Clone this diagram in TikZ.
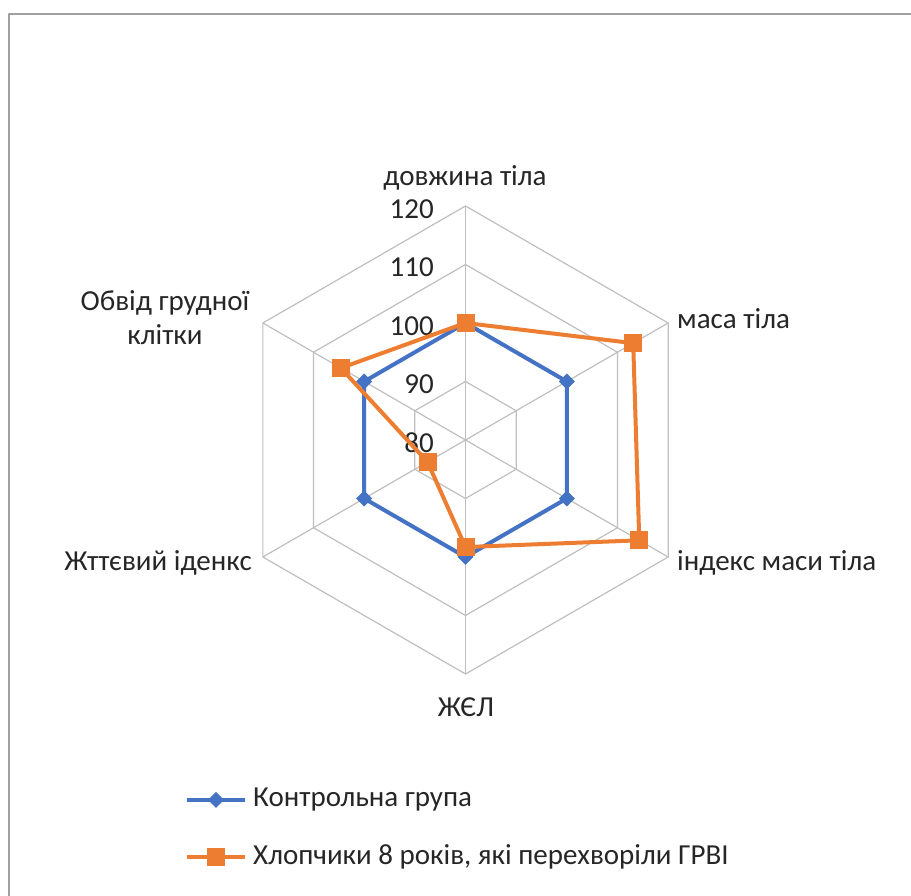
\documentclass[tikz,border=0pt]{standalone}
\usepackage{fontspec}
\setmainfont{Carlito}
\usetikzlibrary{positioning,calc}

\begin{document}
\begin{tikzpicture}[x=1pt, y=1pt, line join=round]

\definecolor{ctrlblue}{RGB}{68,114,196}
\definecolor{sickorange}{RGB}{237,125,49}
\definecolor{gridgray}{RGB}{191,191,191}
\definecolor{framegray}{RGB}{160,160,160}
\definecolor{txtgray}{RGB}{38,38,38}

\tikzset{
  lbl/.style={font=\fontsize{29}{34}\selectfont, text=txtgray, inner sep=0pt},
  ctrl/.style={ctrlblue, line width=4pt},
  sick/.style={sickorange, line width=4pt}
}
\newcommand\ctrlmark[1]{\fill[ctrlblue] (#1) ++(0,8) -- ++(8,-8) -- ++(-8,-8) -- ++(-8,8) -- cycle;}
\newcommand\sickmark[1]{\fill[sickorange] (#1) ++(-9,-9) rectangle ++(18,18);}

\useasboundingbox (0,0) rectangle (911,896);
\draw[framegray, line width=1.5pt] (9,0) -- (9,882) -- (911,882);

% centre of the chart, 10 units = 58.5pt, 80 at the centre
\coordinate (c) at (465.5,456);
\def\stp{58.5}

\foreach \r in {1,2,3,4} {
  \draw[gridgray, line width=1.2pt] ($(c)+(90:\r*\stp)$)
    \foreach \a in {30,-30,-90,-150,150} { -- ($(c)+(\a:\r*\stp)$) } -- cycle;
}
\foreach \a in {90,30,-30,-90,-150,150} {
  \draw[gridgray, line width=1.2pt] (c) -- ($(c)+(\a:4*\stp)$);
}

% scale labels
\foreach \v [count=\k from 0] in {80,90,100,110,120} {
  \node[lbl, anchor=east] (t\v) at ($(c)+(-31.5,\k*\stp-3)$) {\v};
}

% axis labels
\node[lbl] (len) at (465,718) {довжина тіла};
\node[lbl, anchor=west] (mass) at (677,577) {маса тіла};
\node[lbl, anchor=west] (bmi) at (677,333) {індекс маси тіла};
\node[lbl] (vc) at (466,189) {ЖЄЛ};
\node[lbl, anchor=east] (life) at (252,333) {Жттєвий іденкс};
\node[lbl, align=center] (chest) at (165,578) {Обвід грудної\\клітки};

% data points
\foreach \n/\a/\v in {b1/90/100, b2/30/100, b3/-30/100, b4/-90/100, b5/-150/100, b6/150/100} {
  \coordinate (\n) at ($(c)+(\a:{(\v-80)*\stp/10})$);
}
\foreach \n/\a/\v in {o1/90/100, o2/30/113.1, o3/-30/114.3, o4/-90/98.3, o5/-150/87.5, o6/150/104.6} {
  \coordinate (\n) at ($(c)+(\a:{(\v-80)*\stp/10})$);
}

\draw[ctrl] (b1) -- (b2) -- (b3) -- (b4) -- (b5) -- (b6) -- cycle;
\foreach \n in {b1,b2,b3,b4,b5,b6} { \ctrlmark{\n} }
\draw[sick] (o1) -- (o2) -- (o3) -- (o4) -- (o5) -- (o6) -- cycle;
\foreach \n in {o1,o2,o3,o4,o5,o6} { \sickmark{\n} }

% legend
\coordinate (lb1) at (187,96);
\coordinate (lb2) at (245,96);
\coordinate (lbm) at (216,96);
\draw[ctrl] (lb1) -- (lb2);
\ctrlmark{lbm}
\node[lbl, anchor=west] (legctrl) at (253,96) {Контрольна група};

\coordinate (lo1) at (187,39);
\coordinate (lo2) at (245,39);
\coordinate (lom) at (216,39);
\draw[sick] (lo1) -- (lo2);
\sickmark{lom}
\node[lbl, anchor=west] (legsick) at (253,39) {Хлопчики 8 років, які перехворіли ГРВІ};

\end{tikzpicture}
\end{document}
